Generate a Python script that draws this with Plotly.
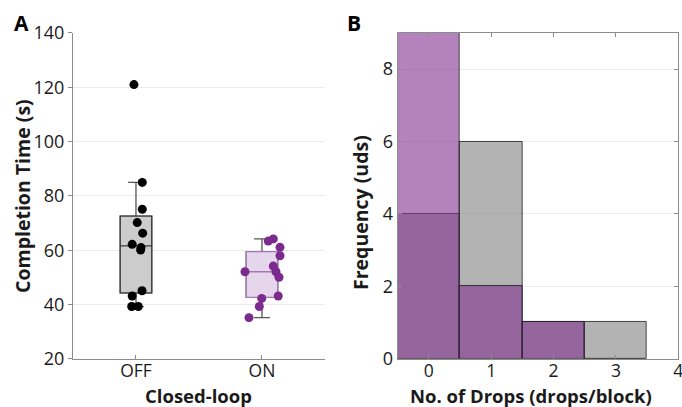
import plotly.graph_objects as go

# ---------------- data ----------------
conditions = ["OFF", "ON"]
cond_pos = [1, 2]

off_times = [121.0, 85.0, 75.1, 70.2, 66.3, 62.2, 61.0, 60.1, 45.1, 43.2, 39.3, 39.3]
off_jitter = [-0.016, 0.05, 0.05, 0.01, 0.053, -0.03, 0.04, 0.037, 0.048, -0.03, -0.034, 0.018]
on_times = [64.2, 63.4, 61.1, 58.0, 54.2, 52.1, 52.1, 50.1, 43.2, 42.3, 39.3, 35.2]
on_jitter = [0.09, 0.05, 0.143, 0.143, 0.09, -0.135, 0.111, 0.135, 0.129, -0.002, -0.021, -0.103]

# box statistics (q1, median, q3, lower whisker, upper whisker)
off_box = [44.3, 61.6, 72.6, 39.3, 85.0]
on_box = [42.7, 52.1, 59.5, 35.2, 64.2]

drops = [0, 1, 2, 3]
freq_off = [4, 6, 1, 1]
freq_on = [9, 2, 1, 0]

y_ticks_a = [20, 40, 60, 80, 100, 120, 140]
y_ticks_b = [0, 2, 4, 6, 8]
x_ticks_b = [0, 1, 2, 3, 4]

# ---------------- styles ----------------
FONT = "Open Sans"
TXT = "#1a1a1a"
AXC = "#8c8c8c"
GRID = "#ebebeb"
PURPLE = "#7b2a8e"

fig = go.Figure()


def add_box(pos, stats, fill, line, whisk):
    q1, med, q3, lo, hi = stats
    # whiskers
    fig.add_trace(go.Box(x=[pos], q1=[q1], median=[med], q3=[q3],
                         lowerfence=[lo], upperfence=[hi], width=0.25,
                         whiskerwidth=0.5, fillcolor=fill,
                         line=dict(color=whisk, width=1.3), boxpoints=False,
                         showlegend=False, hoverinfo="skip",
                         xaxis="x", yaxis="y"))
    # box body
    fig.add_trace(go.Box(x=[pos], q1=[q1], median=[med], q3=[q3],
                         lowerfence=[q1], upperfence=[q3], width=0.25,
                         whiskerwidth=0, fillcolor=fill,
                         line=dict(color=line, width=1.3), boxpoints=False,
                         showlegend=False, hoverinfo="skip",
                         xaxis="x", yaxis="y"))


add_box(cond_pos[0], off_box, "#cccccc", "#3a3a3a", "#555555")
add_box(cond_pos[1], on_box, "#e6d6eb", "#a576b2", "#555555")

fig.add_trace(go.Scatter(x=[cond_pos[0] + j for j in off_jitter], y=off_times,
                         mode="markers", marker=dict(color="black", size=9),
                         showlegend=False, xaxis="x", yaxis="y"))
fig.add_trace(go.Scatter(x=[cond_pos[1] + j for j in on_jitter], y=on_times,
                         mode="markers", marker=dict(color=PURPLE, size=9),
                         showlegend=False, xaxis="x", yaxis="y"))

# histogram panel
fig.add_trace(go.Bar(x=drops, y=freq_off, width=1,
                     marker=dict(color="rgba(128,128,128,0.6)",
                                 line=dict(color="rgba(30,30,30,0.8)", width=1)),
                     showlegend=False, xaxis="x2", yaxis="y2"))
fig.add_trace(go.Bar(x=drops, y=freq_on, width=1,
                     marker=dict(color="rgba(128,48,142,0.6)",
                                 line=dict(color="rgba(30,30,30,0.8)", width=1)),
                     showlegend=False, xaxis="x2", yaxis="y2"))

tickfont = dict(family=FONT, size=18, color=TXT)
xtickfont = dict(family=FONT, size=17.5, color=TXT)

fig.update_layout(
    width=682, height=407,
    margin=dict(l=0, r=0, t=0, b=0),
    paper_bgcolor="white", plot_bgcolor="white",
    barmode="overlay", bargap=0,
    xaxis=dict(domain=[0.107, 0.4765], range=[0.5, 2.5],
               tickvals=cond_pos, ticktext=conditions, tickfont=xtickfont,
               ticklabelstandoff=-4,
               showline=True, linecolor=AXC, linewidth=1, automargin=False,
               ticks="inside", ticklen=4, tickcolor=AXC,
               showgrid=False, zeroline=False, anchor="y"),
    yaxis=dict(domain=[0.118, 0.919], range=[20, 140],
               tickvals=y_ticks_a, tickfont=tickfont, automargin=False,
               showline=True, linecolor=AXC, linewidth=1,
               ticks="outside", ticklen=4, tickcolor=AXC,
               showgrid=True, gridcolor=GRID, gridwidth=1,
               zeroline=False, anchor="x"),
    xaxis2=dict(domain=[0.5831, 0.9946], range=[-0.5, 4],
                tickvals=x_ticks_b, tickfont=xtickfont, automargin=False,
                ticklabeloverflow="allow", ticklabelstandoff=-4,
                showline=True, linecolor=AXC, linewidth=1, mirror="ticks",
                ticks="inside", ticklen=4, tickcolor=AXC,
                showgrid=False, zeroline=False, anchor="y2"),
    yaxis2=dict(domain=[0.119, 0.919], range=[0, 9],
                tickvals=y_ticks_b, tickfont=tickfont, automargin=False,
                showline=True, linecolor=AXC, linewidth=1, mirror="ticks",
                ticks="inside", ticklen=4, tickcolor=AXC,
                showgrid=True, gridcolor=GRID, gridwidth=1,
                zeroline=False, anchor="x2"),
)

title_font = dict(family=FONT, size=19.5, color=TXT)
xtitle_font = dict(family=FONT, size=18.5, color=TXT)
label_font = dict(family=FONT, size=21, color="black")

ann = [
    dict(text="<b>A</b>", x=21 / 682, y=1 - 23 / 407, font=label_font),
    dict(text="<b>B</b>", x=354 / 682, y=1 - 23 / 407, font=label_font),
    dict(text="<b>Completion Time (s)</b>", x=22 / 682, y=1 - 196 / 407,
         textangle=-90, font=title_font),
    dict(text="<b>Closed-loop</b>", x=198 / 682, y=1 - 395 / 407, font=xtitle_font),
    dict(text="<b>Frequency (uds)</b>", x=360 / 682, y=1 - 213 / 407,
         textangle=-90, font=title_font),
    dict(text="<b>No. of Drops (drops/block)</b>", x=531 / 682, y=1 - 395 / 407,
         font=xtitle_font),
]
for a in ann:
    a.update(xref="paper", yref="paper", showarrow=False,
             xanchor="center", yanchor="middle")
fig.update_layout(annotations=ann)

fig.write_html("out.html")
